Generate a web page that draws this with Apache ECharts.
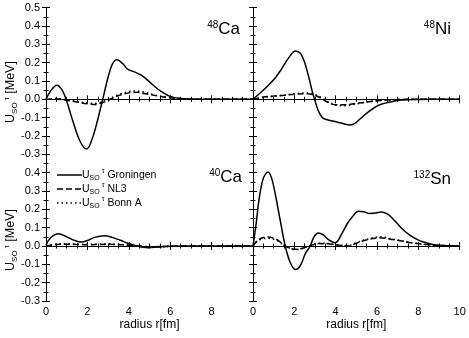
<!DOCTYPE html>
<html><head><meta charset="utf-8">
<script src="https://cdn.jsdelivr.net/npm/echarts@6/dist/echarts.min.js"></script>
<style>html,body{margin:0;padding:0;background:#fff}#c{width:469px;height:338px}</style>
</head><body><div id="c"></div>
<script>
// ---- data (radius r [fm], U_SO^tau [MeV]) ----
var ca48Groningen = [[0,0],[0.25,0.05],[0.52,0.077],[0.75,0.055],[0.97,0],[1.3,-0.12],[1.65,-0.23],[1.97,-0.271],[2.25,-0.21],[2.5,-0.11],[2.74,0],[3.0,0.12],[3.2,0.19],[3.42,0.215],[3.7,0.195],[3.94,0.165],[4.3,0.148],[4.6,0.132],[4.85,0.11],[5.1,0.085],[5.35,0.06],[5.6,0.04],[6.0,0.016],[6.5,0.004],[7,0.001],[8,0],[10,0]];
var ca48NL3 = [[0,0],[0.5,0.003],[1,-0.005],[1.5,-0.015],[2,-0.025],[2.4,-0.028],[2.8,-0.015],[3.1,0],[3.5,0.02],[4,0.035],[4.4,0.038],[4.8,0.03],[5.3,0.02],[5.8,0.01],[6.5,0.003],[7.5,0],[10,0]];
var ca48BonnA = [[0,0],[0.5,0.004],[1,-0.003],[1.5,-0.012],[2,-0.02],[2.4,-0.022],[2.8,-0.01],[3.1,0.005],[3.5,0.025],[4,0.042],[4.3,0.045],[4.7,0.04],[5.2,0.025],[5.8,0.012],[6.5,0.003],[7.5,0],[10,0]];

var ni48Groningen = [[0,0],[0.4,0.04],[0.76,0.078],[1.1,0.12],[1.4,0.169],[1.75,0.23],[2.05,0.264],[2.3,0.25],[2.5,0.2],[2.7,0.12],[2.85,0.05],[2.98,0],[3.15,-0.06],[3.35,-0.1],[3.6,-0.112],[3.9,-0.12],[4.3,-0.131],[4.7,-0.14],[4.95,-0.13],[5.2,-0.105],[5.6,-0.067],[6.1,-0.031],[6.7,-0.013],[7.2,-0.004],[8,-0.001],[10,0]];
var ni48NL3 = [[0,0],[0.5,0.012],[1,0.018],[1.5,0.022],[2,0.027],[2.5,0.03],[2.9,0.025],[3.3,0.005],[3.6,-0.015],[4,-0.03],[4.4,-0.03],[5,-0.022],[5.5,-0.015],[6,-0.008],[6.8,-0.002],[8,0],[10,0]];
var ni48BonnA = [[0,0],[0.5,0.01],[1,0.016],[1.5,0.022],[2,0.03],[2.5,0.034],[2.9,0.03],[3.3,0.01],[3.6,-0.012],[4,-0.032],[4.4,-0.035],[5,-0.025],[5.5,-0.016],[6,-0.008],[6.8,-0.002],[8,0],[10,0]];

var ca40Groningen = [[0,0.005],[0.23,0.046],[0.6,0.067],[1.03,0.048],[1.4,0.03],[1.7,0.022],[2.0,0.03],[2.35,0.047],[2.8,0.056],[3.2,0.047],[3.6,0.031],[3.95,0.015],[4.3,0.003],[4.6,-0.005],[4.95,-0.009],[5.4,-0.006],[6,-0.002],[7,0],[10,0]];
var ca40NL3 = [[0,0],[0.5,0.008],[1,0.01],[1.5,0.008],[2,0.007],[2.5,0.008],[3,0.009],[3.5,0.008],[4,0.004],[4.5,0],[5,-0.004],[5.5,-0.003],[6.5,0],[10,0]];
var ca40BonnA = [[0,0],[0.5,0.01],[1,0.012],[1.5,0.01],[2,0.009],[2.5,0.01],[3,0.011],[3.5,0.009],[4,0.005],[4.5,0],[5,-0.005],[5.5,-0.004],[6.5,0],[10,0]];

var sn132Groningen = [[0,0],[0.15,0.12],[0.3,0.26],[0.5,0.37],[0.73,0.404],[0.9,0.37],[1.1,0.27],[1.3,0.15],[1.56,0],[1.8,-0.09],[2.05,-0.128],[2.3,-0.105],[2.53,-0.042],[2.77,0],[2.95,0.05],[3.17,0.071],[3.4,0.06],[3.65,0.035],[3.98,0.018],[4.3,0.067],[4.55,0.12],[4.8,0.158],[5.1,0.19],[5.35,0.187],[5.65,0.177],[5.95,0.18],[6.2,0.185],[6.5,0.175],[6.75,0.15],[7.0,0.12],[7.25,0.09],[7.6,0.058],[8.0,0.032],[8.25,0.022],[8.7,0.008],[9.2,0.002],[10,0]];
var sn132NL3 = [[0,0],[0.27,0.035],[0.68,0.049],[1.16,0.035],[1.56,0],[2.05,-0.018],[2.4,-0.012],[2.7,0],[3.17,0.013],[3.6,0.012],[3.98,0.007],[4.6,0],[5.0,0.015],[5.3,0.027],[5.7,0.038],[6.1,0.045],[6.5,0.04],[6.75,0.035],[7.2,0.027],[7.8,0.015],[8.7,0.005],[9.5,0.001],[10,0]];
var sn132BonnA = [[0,0],[0.27,0.03],[0.7,0.042],[1.16,0.03],[1.56,0],[2.05,-0.02],[2.4,-0.014],[2.7,0],[3.17,0.015],[3.6,0.014],[3.98,0.008],[4.6,0.002],[5.0,0.018],[5.3,0.03],[5.7,0.042],[6.1,0.05],[6.5,0.045],[6.75,0.038],[7.2,0.028],[7.8,0.015],[8.7,0.005],[9.5,0.001],[10,0]];

var seriesNames = ['Groningen', 'NL3', 'Bonn A'];
var panelLabels = [['48','Ca'],['48','Ni'],['40','Ca'],['132','Sn']];
var xMin = 0, xMax = 10, xInterval = 2;
var yMin = -0.3, yMax = 0.5, yInterval = 0.1;

var panels = [
  [ca48Groningen, ca48NL3, ca48BonnA],
  [ni48Groningen, ni48NL3, ni48BonnA],
  [ca40Groningen, ca40NL3, ca40BonnA],
  [sn132Groningen, sn132NL3, sn132BonnA]
];

var FONT = 'Liberation Sans, Arial, sans-serif';
var grids = [
  {left: 46, top: 7.6, width: 207, height: 146.7},
  {left: 253, top: 7.6, width: 206.7, height: 146.7},
  {left: 46, top: 154.3, width: 207, height: 146.7},
  {left: 253, top: 154.3, width: 206.7, height: 146.7}
];
var lineTypes = ['solid', [6, 3], [1.5, 3]];

var xAxes = [], yAxes = [], series = [];
var axLine = {show: true, lineStyle: {color: '#000', width: 1}};
for (var i = 0; i < 4; i++) {
  var bottomRow = i >= 2, leftCol = (i % 2 === 0);
  var common = {type: 'value', gridIndex: i, min: xMin, max: xMax, interval: xInterval,
    splitLine: {show: false}, axisLine: axLine,
    axisTick: {inside: true, length: 4, lineStyle: {color: '#000'}},
    minorTick: {show: true, splitNumber: 4, length: 2.5, lineStyle: {color: '#000'}}};
  xAxes.push(Object.assign({}, common, {position: 'bottom',
    axisLabel: {show: bottomRow, color: '#000', fontSize: 11, fontFamily: FONT, margin: 5,
      showMaxLabel: !leftCol},
    name: bottomRow ? 'radius r[fm]' : '', nameLocation: 'middle', nameGap: 18,
    nameTextStyle: {color: '#000', fontSize: 12, fontFamily: FONT}}));
  xAxes.push(Object.assign({}, common, {position: 'top', axisLabel: {show: false}}));
  var ycommon = {type: 'value', gridIndex: i, min: yMin, max: yMax, interval: yInterval,
    splitLine: {show: false}, axisLine: axLine,
    axisTick: {inside: true, length: 4, lineStyle: {color: '#000'}},
    minorTick: {show: true, splitNumber: 2, length: 2.5, lineStyle: {color: '#000'}}};
  yAxes.push(Object.assign({}, ycommon, {position: 'left',
    axisLabel: {show: leftCol, color: '#000', fontSize: 11, fontFamily: FONT, margin: 6,
      showMaxLabel: !bottomRow, formatter: function (v) { return v.toFixed(1); }}}));
  yAxes.push(Object.assign({}, ycommon, {position: 'right', axisLabel: {show: false}}));
  for (var k = 0; k < 3; k++) {
    var s = {type: 'line', name: seriesNames[k], xAxisIndex: 2 * i, yAxisIndex: 2 * i,
      data: panels[i][k], smooth: 0.35, symbol: 'none', silent: true,
      lineStyle: {color: '#000', width: 1.5, type: lineTypes[k]}, itemStyle: {color: '#000'},
      z: 3 + k};
    if (k === 0) {
      s.markLine = {silent: true, symbol: ['none', 'none'], label: {show: false},
        lineStyle: {color: '#000', width: 1.2, type: 'solid'}, data: [{yAxis: 0}]};
    }
    series.push(s);
  }
}

var richTitle = {
  u: {fontSize: 12.5, fontFamily: FONT, lineHeight: 16, fill: '#000'},
  s: {fontSize: 8, fontFamily: FONT, lineHeight: 8, verticalAlign: 'bottom', fill: '#000'},
  t: {fontSize: 8, fontFamily: FONT, lineHeight: 8, verticalAlign: 'top', fill: '#000', padding: [0, 0, 0, 2]}
};
var graphics = [];
[92, 240].forEach(function (cy) {
  graphics.push({type: 'text', x: 11, y: cy, rotation: Math.PI / 2,
    style: {text: '{u|U}{s|SO}{t|τ}{u| [MeV]}', rich: richTitle, align: 'center', verticalAlign: 'middle', fill: '#000'}});
});
var labelPos = [[240, 38], [451, 38], [242, 186], [451, 188]];
for (var j = 0; j < 4; j++) {
  graphics.push({type: 'text', x: labelPos[j][0], y: labelPos[j][1],
    style: {text: '{a|' + panelLabels[j][0] + '}{b|' + panelLabels[j][1] + '}', align: 'right', verticalAlign: 'bottom',
      rich: {a: {fontSize: 10, fontFamily: FONT, lineHeight: 10, verticalAlign: 'top', fill: '#000'},
             b: {fontSize: 17, fontFamily: FONT, lineHeight: 18, verticalAlign: 'bottom', fill: '#000'}}}});
}
// legend (drawn as graphic key)
var legendRich = {
  u: {fontSize: 10.5, fontFamily: FONT, lineHeight: 14, fill: '#000'},
  s: {fontSize: 7, fontFamily: FONT, lineHeight: 7, verticalAlign: 'bottom', fill: '#000'},
  t: {fontSize: 7, fontFamily: FONT, lineHeight: 7, verticalAlign: 'top', fill: '#000', padding: [0, 0, 0, 2]}
};
for (var m = 0; m < 3; m++) {
  var ly = 175 + 14 * m;
  var dash = lineTypes[m] === 'solid' ? null : lineTypes[m];
  graphics.push({type: 'line', shape: {x1: 57, y1: ly, x2: 82, y2: ly},
    style: {stroke: '#000', lineWidth: 1.5, lineDash: dash}});
  graphics.push({type: 'text', x: 82, y: ly,
    style: {text: '{u|U}{s|SO}{t|τ}{u| ' + seriesNames[m] + '}', rich: legendRich, align: 'left', verticalAlign: 'middle', fill: '#000'}});
}

var chart = echarts.init(document.getElementById('c'), null, {renderer: 'canvas'});
chart.setOption({
  animation: false,
  backgroundColor: '#fff',
  grid: grids,
  xAxis: xAxes,
  yAxis: yAxes,
  graphic: graphics,
  series: series
});
</script></body></html>
